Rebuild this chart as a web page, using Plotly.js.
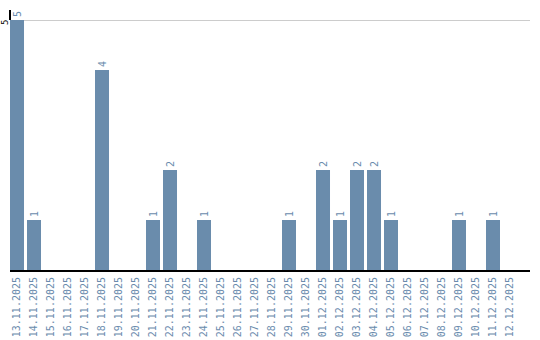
<!DOCTYPE html>
<html><head><meta charset="utf-8">
<script src="https://cdn.plot.ly/plotly-3.0.1.min.js"></script>
<style>body{margin:0;background:#fff}#c{width:540px;height:340px}</style>
</head><body><div id="c"></div>
<script>
const dates = ["13.11.2025","14.11.2025","15.11.2025","16.11.2025","17.11.2025","18.11.2025","19.11.2025","20.11.2025","21.11.2025","22.11.2025","23.11.2025","24.11.2025","25.11.2025","26.11.2025","27.11.2025","28.11.2025","29.11.2025","30.11.2025","01.12.2025","02.12.2025","03.12.2025","04.12.2025","05.12.2025","06.12.2025","07.12.2025","08.12.2025","09.12.2025","10.12.2025","11.12.2025","12.12.2025"];
const counts = [5,1,0,0,0,4,0,0,1,2,0,1,0,0,0,0,1,0,2,1,2,2,1,0,0,0,1,0,1,0];
const barText = counts.map(v => v > 0 ? String(v) : "");
const yTicks = [5];

const trace = {
  type: "bar", x: dates, y: counts, text: barText,
  textposition: "outside", textangle: -90, cliponaxis: false,
  textfont: {family: "DejaVu Sans Mono", size: 10, color: "#6a8bad"},
  marker: {color: "#6a8cac"}, hoverinfo: "none"
};
const layout = {
  width: 540, height: 340,
  margin: {l: 10, r: 10, t: 10, b: 70},
  paper_bgcolor: "#fff", plot_bgcolor: "#fff",
  bargap: 0.176, showlegend: false,
  font: {family: "DejaVu Sans Mono", size: 10},
  xaxis: {type: "category", categoryorder: "array", categoryarray: dates,
    range: [-0.412, 30.176], tickangle: -90, showgrid: false,
    showline: true, linecolor: "#000", linewidth: 2,
    ticks: "outside", ticklen: 1, tickcolor: "rgba(0,0,0,0)",
    tickfont: {family: "DejaVu Sans Mono", size: 10, color: "#6a8bad"}},
  yaxis: {range: [0, 5.2], tickvals: yTicks, showticklabels: false,
    showgrid: true, gridcolor: "#cccccc", gridwidth: 1, zeroline: false, showline: false},
  annotations: yTicks.map(v => ({xref: "paper", yref: "y", x: 0, y: v, text: String(v),
    textangle: -90, showarrow: false, xanchor: "left", yanchor: "middle", xshift: -11,
    borderpad: 0, yshift: -3,
    font: {family: "DejaVu Sans Mono", size: 9, color: "#000"}})),
  shapes: [{type: "line", xref: "paper", yref: "y", x0: 0, x1: 0, y0: 5, y1: 5.2,
    line: {color: "#000", width: 2}}]
};
Plotly.newPlot("c", [trace], layout, {displayModeBar: false, staticPlot: true});
</script></body></html>
